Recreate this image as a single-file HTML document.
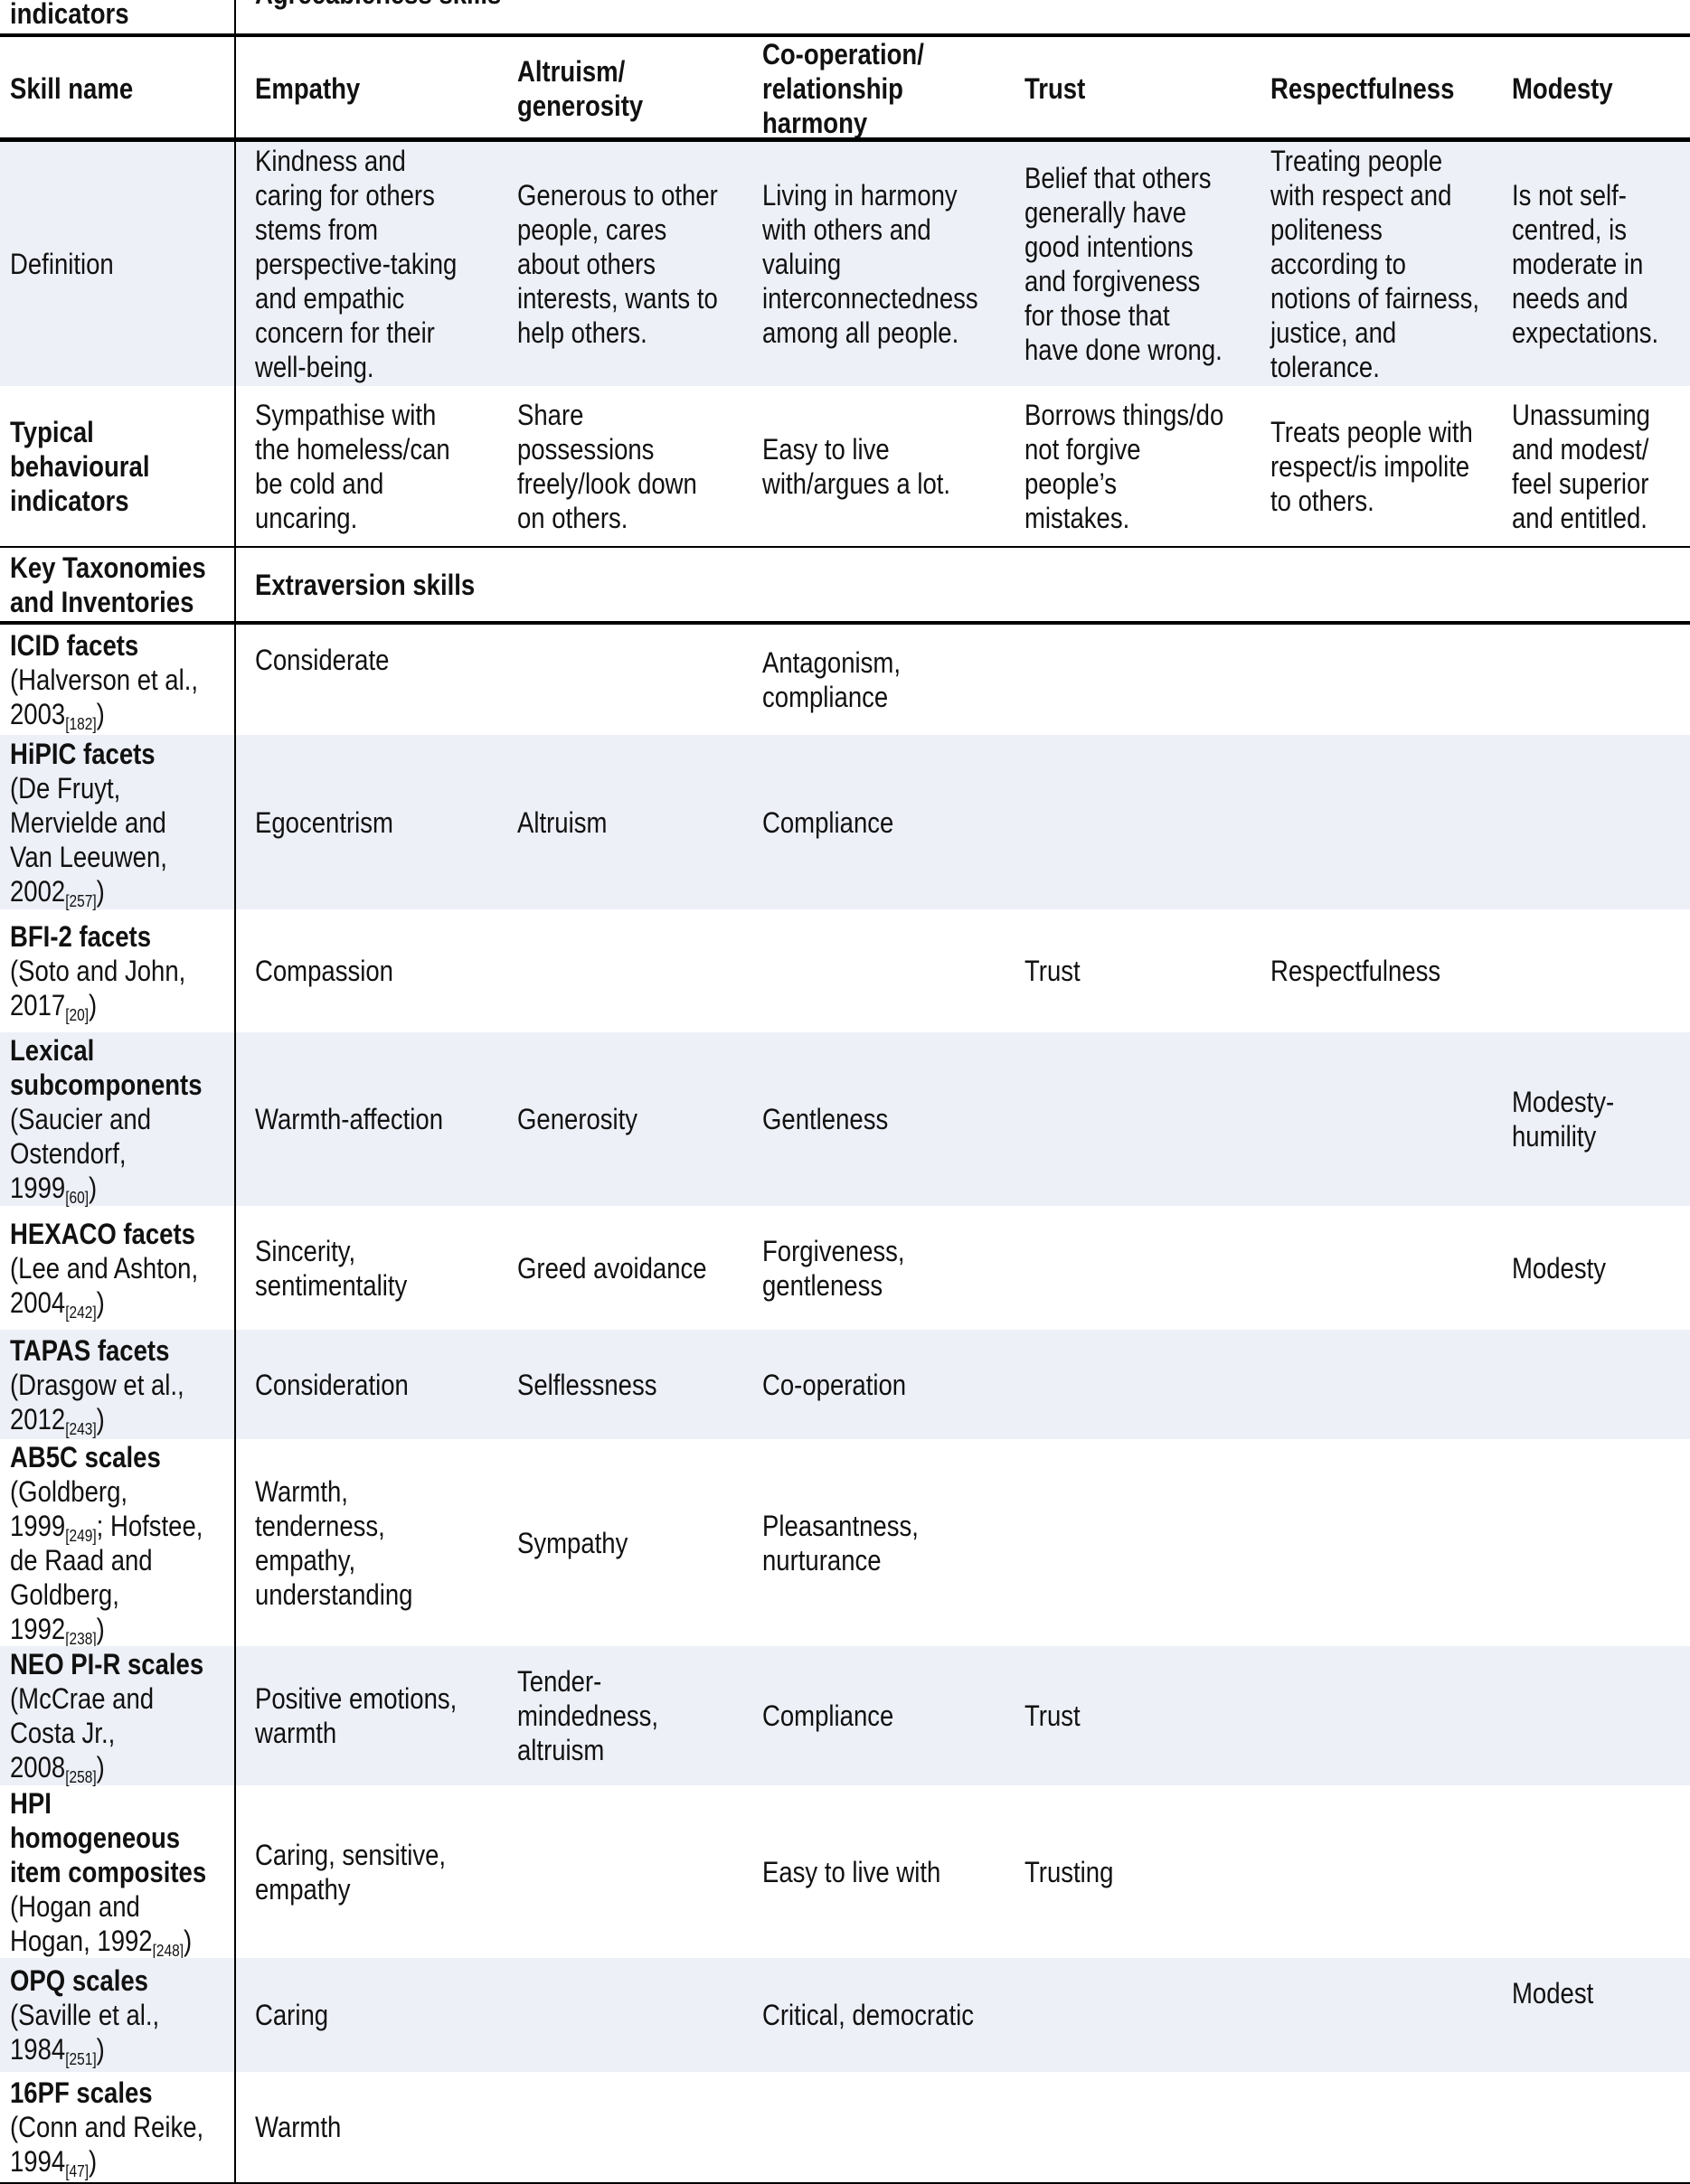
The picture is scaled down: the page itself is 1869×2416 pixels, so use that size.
<!DOCTYPE html>
<html><head><meta charset="utf-8">
<style>
html,body{margin:0;padding:0;background:#fff;}
body{width:1869px;height:2416px;position:relative;overflow:hidden;font-family:"Liberation Sans",sans-serif;font-size:32px;line-height:38px;color:#111;}
.row{position:absolute;left:0;width:1869px;}
.bg{background:#edf0f7;}
.c{position:absolute;top:0;height:100%;display:flex;align-items:center;white-space:nowrap;transform:scaleX(0.86);transform-origin:0 50%;}
.b{font-weight:bold;}
sub{font-size:18px;vertical-align:-6px;line-height:0;}
.hl{position:absolute;left:0;width:1869px;background:#000;}
.vl{position:absolute;left:259px;top:0;width:2px;height:2416px;background:#000;}
</style></head><body>
<div class="row" style="top:-30px;height:68px">
 <div class="c b" style="left:11px;align-items:flex-end;padding-bottom:4px;height:64px">indicators</div>
 <div class="c b" style="left:282px;align-items:flex-start;top:4px">Agreeableness skills</div>
</div>
<div class="hl" style="top:37px;height:4px"></div>

<div class="row" style="top:41px;height:113px">
 <div class="c b" style="left:11px">Skill name</div>
 <div class="c b" style="left:282px">Empathy</div>
 <div class="c b" style="left:572px">Altruism/<br>generosity</div>
 <div class="c b" style="left:843px">Co-operation/<br>relationship<br>harmony</div>
 <div class="c b" style="left:1133px">Trust</div>
 <div class="c b" style="left:1405px">Respectfulness</div>
 <div class="c b" style="left:1672px">Modesty</div>
</div>
<div class="hl" style="top:152px;height:5px"></div>

<div class="row bg" style="top:157px;height:270px">
 <div class="c" style="left:11px">Definition</div>
 <div class="c" style="left:282px">Kindness and<br>caring for others<br>stems from<br>perspective-taking<br>and empathic<br>concern for their<br>well-being.</div>
 <div class="c" style="left:572px">Generous to other<br>people, cares<br>about others<br>interests, wants to<br>help others.</div>
 <div class="c" style="left:843px">Living in harmony<br>with others and<br>valuing<br>interconnectedness<br>among all people.</div>
 <div class="c" style="left:1133px">Belief that others<br>generally have<br>good intentions<br>and forgiveness<br>for those that<br>have done wrong.</div>
 <div class="c" style="left:1405px">Treating people<br>with respect and<br>politeness<br>according to<br>notions of fairness,<br>justice, and<br>tolerance.</div>
 <div class="c" style="left:1672px">Is not self-<br>centred, is<br>moderate in<br>needs and<br>expectations.</div>
</div>

<div class="row" style="top:427px;height:178px">
 <div class="c b" style="left:11px">Typical<br>behavioural<br>indicators</div>
 <div class="c" style="left:282px">Sympathise with<br>the homeless/can<br>be cold and<br>uncaring.</div>
 <div class="c" style="left:572px">Share<br>possessions<br>freely/look down<br>on others.</div>
 <div class="c" style="left:843px">Easy to live<br>with/argues a lot.</div>
 <div class="c" style="left:1133px">Borrows things/do<br>not forgive<br>people’s<br>mistakes.</div>
 <div class="c" style="left:1405px">Treats people with<br>respect/is impolite<br>to others.</div>
 <div class="c" style="left:1672px">Unassuming<br>and modest/<br>feel superior<br>and entitled.</div>
</div>
<div class="hl" style="top:604px;height:2px"></div>

<div class="row" style="top:606px;height:81px">
 <div class="c b" style="left:11px">Key Taxonomies<br>and Inventories</div>
 <div class="c b" style="left:282px">Extraversion skills</div>
</div>
<div class="hl" style="top:687px;height:4px"></div>

<div class="row" style="top:691px;height:122px">
 <div class="c" style="left:11px"><span><b>ICID facets</b><br>(Halverson et al.,<br>2003<sub>[182]</sub>)</span></div>
 <div class="c" style="left:282px;align-items:flex-start;top:20px">Considerate</div>
 <div class="c" style="left:843px">Antagonism,<br>compliance</div>
</div>
<div class="row bg" style="top:813px;height:193px">
 <div class="c" style="left:11px"><span><b>HiPIC facets</b><br>(De Fruyt,<br>Mervielde and<br>Van Leeuwen,<br>2002<sub>[257]</sub>)</span></div>
 <div class="c" style="left:282px">Egocentrism</div>
 <div class="c" style="left:572px">Altruism</div>
 <div class="c" style="left:843px">Compliance</div>
</div>
<div class="row" style="top:1006px;height:136px">
 <div class="c" style="left:11px"><span><b>BFI-2 facets</b><br>(Soto and John,<br>2017<sub>[20]</sub>)</span></div>
 <div class="c" style="left:282px">Compassion</div>
 <div class="c" style="left:1133px">Trust</div>
 <div class="c" style="left:1405px">Respectfulness</div>
</div>
<div class="row bg" style="top:1142px;height:192px">
 <div class="c" style="left:11px"><span><b>Lexical<br>subcomponents</b><br>(Saucier and<br>Ostendorf,<br>1999<sub>[60]</sub>)</span></div>
 <div class="c" style="left:282px">Warmth-affection</div>
 <div class="c" style="left:572px">Generosity</div>
 <div class="c" style="left:843px">Gentleness</div>
 <div class="c" style="left:1672px">Modesty-<br>humility</div>
</div>
<div class="row" style="top:1334px;height:137px">
 <div class="c" style="left:11px"><span><b>HEXACO facets</b><br>(Lee and Ashton,<br>2004<sub>[242]</sub>)</span></div>
 <div class="c" style="left:282px">Sincerity,<br>sentimentality</div>
 <div class="c" style="left:572px">Greed avoidance</div>
 <div class="c" style="left:843px">Forgiveness,<br>gentleness</div>
 <div class="c" style="left:1672px">Modesty</div>
</div>
<div class="row bg" style="top:1471px;height:121px">
 <div class="c" style="left:11px"><span><b>TAPAS facets</b><br>(Drasgow et al.,<br>2012<sub>[243]</sub>)</span></div>
 <div class="c" style="left:282px">Consideration</div>
 <div class="c" style="left:572px">Selflessness</div>
 <div class="c" style="left:843px">Co-operation</div>
</div>
<div class="row" style="top:1592px;height:229px">
 <div class="c" style="left:11px"><span><b>AB5C scales</b><br>(Goldberg,<br>1999<sub>[249]</sub>; Hofstee,<br>de Raad and<br>Goldberg,<br>1992<sub>[238]</sub>)</span></div>
 <div class="c" style="left:282px">Warmth,<br>tenderness,<br>empathy,<br>understanding</div>
 <div class="c" style="left:572px">Sympathy</div>
 <div class="c" style="left:843px">Pleasantness,<br>nurturance</div>
</div>
<div class="row bg" style="top:1821px;height:154px">
 <div class="c" style="left:11px"><span><b>NEO PI-R scales</b><br>(McCrae and<br>Costa Jr.,<br>2008<sub>[258]</sub>)</span></div>
 <div class="c" style="left:282px">Positive emotions,<br>warmth</div>
 <div class="c" style="left:572px">Tender-<br>mindedness,<br>altruism</div>
 <div class="c" style="left:843px">Compliance</div>
 <div class="c" style="left:1133px">Trust</div>
</div>
<div class="row" style="top:1975px;height:191px">
 <div class="c" style="left:11px"><span><b>HPI<br>homogeneous<br>item composites</b><br>(Hogan and<br>Hogan, 1992<sub>[248]</sub>)</span></div>
 <div class="c" style="left:282px">Caring, sensitive,<br>empathy</div>
 <div class="c" style="left:843px">Easy to live with</div>
 <div class="c" style="left:1133px">Trusting</div>
</div>
<div class="row bg" style="top:2166px;height:126px">
 <div class="c" style="left:11px"><span><b>OPQ scales</b><br>(Saville et al.,<br>1984<sub>[251]</sub>)</span></div>
 <div class="c" style="left:282px">Caring</div>
 <div class="c" style="left:843px">Critical, democratic</div>
 <div class="c" style="left:1672px;top:-24px">Modest</div>
</div>
<div class="row" style="top:2292px;height:122px">
 <div class="c" style="left:11px"><span><b>16PF scales</b><br>(Conn and Reike,<br>1994<sub>[47]</sub>)</span></div>
 <div class="c" style="left:282px">Warmth</div>
</div>
<div class="hl" style="top:2414px;height:2px"></div>
<div class="vl"></div>
</body></html>
